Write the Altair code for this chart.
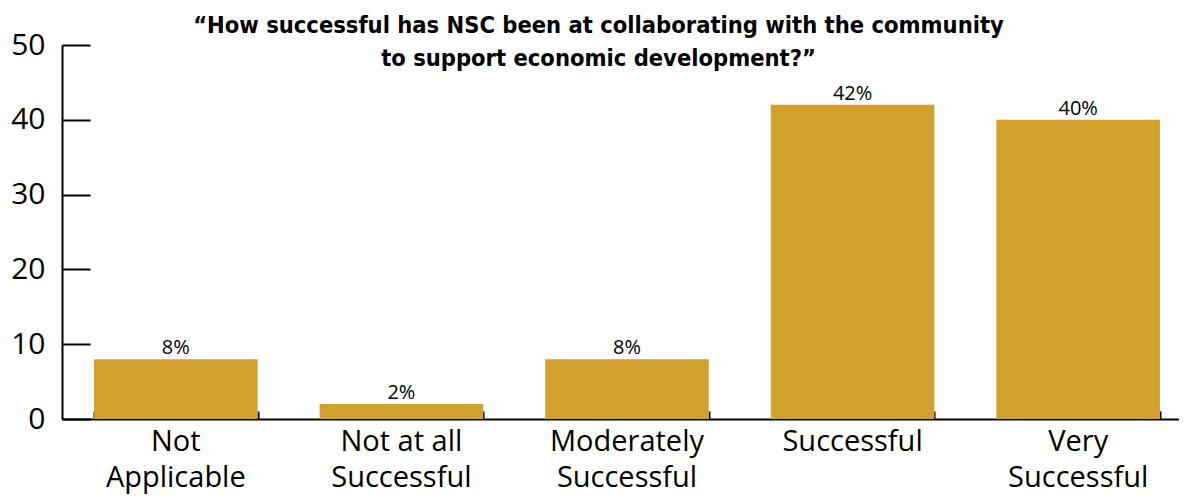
import altair as alt
import pandas as pd

categories = ["Not Applicable", "Not at all Successful", "Moderately Successful", "Successful", "Very Successful"]
label_lines = [["Not", "Applicable"], ["Not at all", "Successful"], ["Moderately", "Successful"], ["Successful"], ["Very", "Successful"]]
percents = [8, 2, 8, 42, 40]
y_ticks = [0, 10, 20, 30, 40, 50]
title_lines = ["\u201cHow successful has NSC been at collaborating with the community",
               "to support economic development?\u201d"]

df = pd.DataFrame({"category": categories, "pct": percents})

W, H = 1117, 374
BAR = "#D2A02D"
label_map = "{" + ",".join(f"'{c}': {lines}" for c, lines in zip(categories, label_lines)) + "}"

xscale = alt.Scale(paddingInner=0.275, paddingOuter=0.142, range=[0, 1130])
yscale = alt.Scale(domain=[0, 50], nice=False)

bars = alt.Chart(df).mark_bar(color=BAR).encode(
    x=alt.X("category:N", sort=categories, scale=xscale,
            axis=alt.Axis(title=None, labelAngle=0, labelExpr=label_map + "[datum.value]",
                          labelFont="Open Sans", labelFontSize=29, labelColor="black",
                          ticks=False, tickSize=0, domainColor="black", domainWidth=2,
                          labelPadding=8, labelLineHeight=36)),
    y=alt.Y("pct:Q", scale=yscale,
            axis=alt.Axis(title=None, values=y_ticks, ticks=False, tickSize=0, grid=False,
                          labelFont="Open Sans", labelFontSize=30, labelColor="black",
                          labelPadding=17, domainColor="black", domainWidth=2)),
)

labels = alt.Chart(df).transform_calculate(
    txt="datum.pct + '%'"
).mark_text(baseline="alphabetic", dy=-5, font="Open Sans", fontSize=20, color="black").encode(
    x=alt.X("category:N", sort=categories, scale=xscale,
            axis=alt.Axis(title=None, orient="top", offset=-H, labels=False, domain=False,
                          tickBand="extent", ticks=True, tickSize=8, tickWidth=2, tickColor="black")),
    y=alt.Y("pct:Q", scale=yscale,
            axis=alt.Axis(title=None, orient="right", offset=-W, labels=False, domain=False,
                          values=y_ticks, grid=False, ticks=True, tickSize=28, tickWidth=2,
                          tickColor="black")),
    text="txt:N",
)

chart = alt.layer(bars, labels).resolve_axis(x="independent", y="independent").properties(
    width=W, height=H,
    autosize="none",
    padding={"left": 54, "top": 37, "right": 0, "bottom": 78},
    title=alt.TitleParams(text=title_lines,
                          font="'Liberation Sans Narrow', 'DejaVu Sans Condensed', 'Roboto Condensed', Roboto",
                          fontSize=23.5, fontWeight="bold", color="black", anchor="middle",
                          offset=-40, dx=-22, lineHeight=33),
).configure_view(stroke=None)

chart.save("out.html", embed_options={"renderer": "svg", "actions": False})
